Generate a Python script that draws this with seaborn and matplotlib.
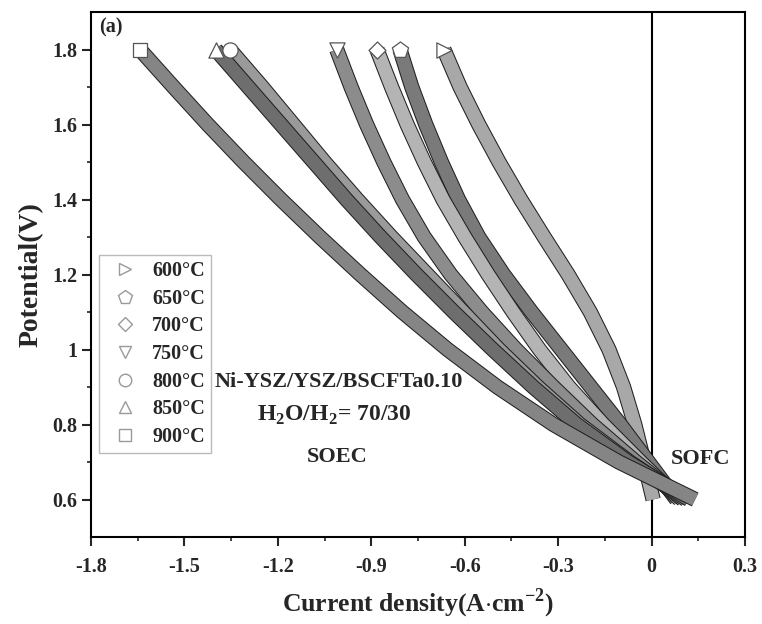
import numpy as np
import pandas as pd
import seaborn as sns
import matplotlib.pyplot as plt
import matplotlib.patheffects as pe
from matplotlib.lines import Line2D

potential = [1.8, 1.7, 1.6, 1.5, 1.4, 1.3, 1.2, 1.1, 1.0, 0.9, 0.8, 0.7, 0.6]

# current density (A cm^-2) per temperature
j_600 = [-0.667, -0.615, -0.555, -0.49, -0.42, -0.345, -0.268, -0.197, -0.137, -0.09, -0.054, -0.024, 0.005]
j_650 = [-0.808, -0.77, -0.725, -0.675, -0.62, -0.555, -0.475, -0.385, -0.29, -0.195, -0.10, -0.01, 0.08]
j_700 = [-0.882, -0.835, -0.785, -0.73, -0.67, -0.60, -0.525, -0.445, -0.36, -0.265, -0.155, -0.035, 0.09]
j_750 = [-1.011, -0.965, -0.915, -0.86, -0.80, -0.73, -0.645, -0.545, -0.435, -0.315, -0.19, -0.05, 0.10]
j_800 = [-1.354, -1.25, -1.15, -1.05, -0.945, -0.835, -0.72, -0.605, -0.49, -0.365, -0.23, -0.07, 0.11]
j_850 = [-1.40, -1.295, -1.19, -1.085, -0.98, -0.87, -0.755, -0.635, -0.51, -0.38, -0.24, -0.075, 0.12]
j_900 = [-1.643, -1.535, -1.425, -1.31, -1.19, -1.065, -0.935, -0.80, -0.655, -0.495, -0.315, -0.105, 0.14]

temps = ["600°C", "650°C", "700°C", "750°C", "800°C", "850°C", "900°C"]
series = [j_600, j_650, j_700, j_750, j_800, j_850, j_900]
markers = [">", "p", "D", "v", "o", "^", "s"]
marker_sizes = [120, 150, 75, 120, 120, 120, 95]
band_colors = ["#a8a8a8", "#7a7a7a", "#b4b4b4", "#8c8c8c", "#9a9a9a", "#6e6e6e", "#858585"]

xticks = [-1.8, -1.5, -1.2, -0.9, -0.6, -0.3, 0, 0.3]
xticklabels = ["-1.8", "-1.5", "-1.2", "-0.9", "-0.6", "-0.3", "0", "0.3"]
yticks = [0.6, 0.8, 1.0, 1.2, 1.4, 1.6, 1.8]
yticklabels = ["0.6", "0.8", "1", "1.2", "1.4", "1.6", "1.8"]

df = pd.concat(
    [pd.DataFrame({"j": s, "V": potential, "T": t}) for s, t in zip(series, temps)],
    ignore_index=True,
)

sns.set_style("ticks")
plt.rcParams["font.family"] = ["Liberation Serif", "DejaVu Serif"]
plt.rcParams["font.weight"] = "bold"
plt.rcParams["mathtext.fontset"] = "custom"
plt.rcParams["mathtext.rm"] = "Liberation Serif:bold"
plt.rcParams["mathtext.bf"] = "Liberation Serif:bold"

fig = plt.figure(figsize=(7.62, 6.24), dpi=100)
ax = fig.add_axes([91 / 762, 1 - 537 / 624, 654 / 762, 525 / 624])

# thick outlined bands stand in for the densely packed markers of the original
for i, t in enumerate(temps):
    sub = df[df["T"] == t]
    sns.lineplot(data=sub, x="j", y="V", sort=False, estimator=None, ax=ax,
                 color=band_colors[i], linewidth=9.5, legend=False, zorder=2 + i)
    ax.lines[-1].set_solid_capstyle("butt")
    ax.lines[-1].set_solid_joinstyle("round")
    ax.lines[-1].set_path_effects([pe.Stroke(linewidth=11, foreground="#202020"), pe.Normal()])
    top = sub[sub["V"] == sub["V"].max()]
    sns.scatterplot(data=top, x="j", y="V", marker=markers[i], s=marker_sizes[i], color="white",
                    edgecolor="#555555", linewidth=0.9, ax=ax, legend=False, zorder=20)

ax.axvline(0, color="black", linewidth=1.5, zorder=1)

ax.set_xlim(-1.8, 0.3)
ax.set_ylim(0.5, 1.9)
ax.set_xticks(xticks)
ax.set_xticklabels(xticklabels)
ax.set_yticks(yticks)
ax.set_yticklabels(yticklabels)
ax.set_xticks(np.arange(-1.65, 0.3, 0.3), minor=True)
ax.set_yticks(np.arange(0.7, 1.9, 0.2), minor=True)
ax.tick_params(axis="both", which="major", direction="out", length=6.5, width=1.5,
               labelsize=14.5, top=False, right=False)
ax.tick_params(axis="x", which="major", pad=8)
ax.tick_params(axis="both", which="minor", direction="out", length=3, width=1.2,
               top=False, right=False)
for lab in ax.get_xticklabels() + ax.get_yticklabels():
    lab.set_fontweight("bold")
for sp in ax.spines.values():
    sp.set_linewidth(1.5)
    sp.set_color("black")

ax.set_xlabel(r"Current density(A$\cdot$cm$^{-2}$)", fontsize=18.5, fontweight="bold", labelpad=7)
ax.set_ylabel("Potential(V)", fontsize=20, fontweight="bold", labelpad=6)

ax.text(-1.775, 1.86, "(a)", fontsize=14.5, fontweight="bold", va="center", ha="left")
ax.text(-1.004, 0.913, "Ni-YSZ/YSZ/BSCFTa0.10", fontsize=16, fontweight="bold", ha="center", va="center")
ax.text(-1.02, 0.825, r"H$_\mathbf{2}$O/H$_\mathbf{2}$= 70/30", fontsize=17, fontweight="bold",
        ha="center", va="center")
ax.text(-1.01, 0.713, "SOEC", fontsize=16, fontweight="bold", ha="center", va="center")
ax.text(0.157, 0.708, "SOFC", fontsize=16, fontweight="bold", ha="center", va="center")

handles = [Line2D([], [], linestyle="none", marker=m, markersize=9 * np.sqrt(s / 120),
                  markerfacecolor="white", markeredgecolor="#999999", markeredgewidth=1.0)
           for m, s in zip(markers, marker_sizes)]
leg = ax.legend(handles, temps, loc="upper left", bbox_to_anchor=(0.012, 0.537),
                frameon=True, fancybox=False, fontsize=14.5, labelspacing=0.38,
                handletextpad=0.35, borderpad=0.3, handlelength=2.0, borderaxespad=0)
leg.get_frame().set_edgecolor("#aaaaaa")
leg.get_frame().set_linewidth(1.0)
for txt in leg.get_texts():
    txt.set_fontweight("bold")

fig.savefig("out.png", dpi=100)
